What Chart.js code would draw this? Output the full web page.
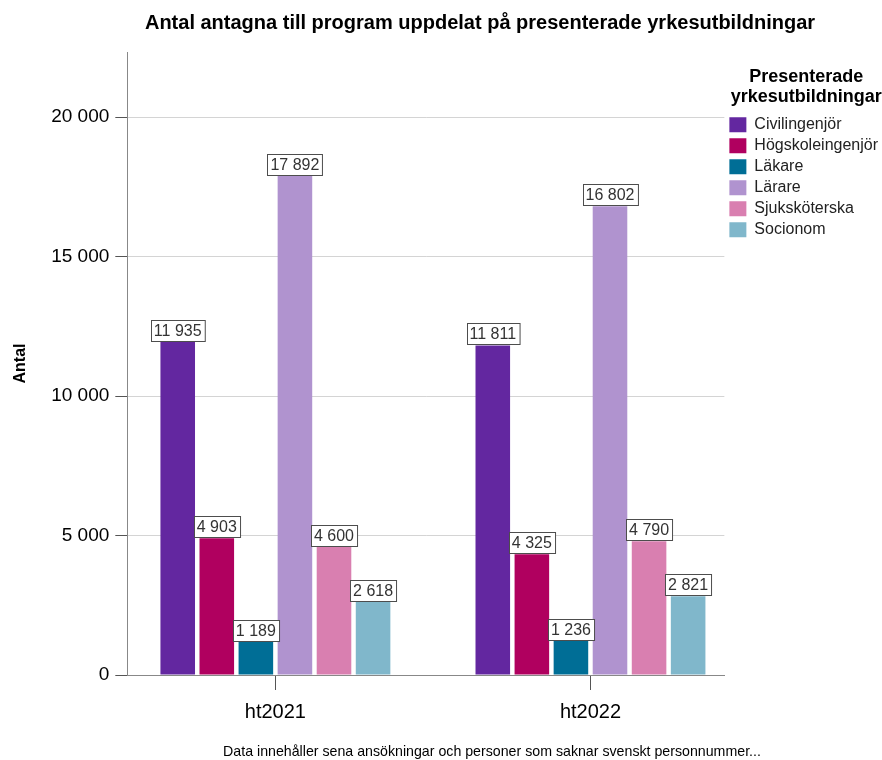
<!DOCTYPE html>
<html>
<head>
<meta charset="utf-8">
<script src="https://cdn.jsdelivr.net/npm/chart.js@4.4.0/dist/chart.umd.min.js"></script>
<style>
  body { margin: 0; background: #fff; }
  #wrap { width: 882px; height: 760px; }
</style>
</head>
<body>
<div id="wrap"><canvas id="mychart" width="882" height="760"></canvas></div>
<script>
var periods = ['ht2021', 'ht2022'];
var programs = ['Civilingenjör', 'Högskoleingenjör', 'Läkare', 'Lärare', 'Sjuksköterska', 'Socionom'];
var civilingenjor = [11935, 11811];
var hogskoleingenjor = [4903, 4325];
var lakare = [1189, 1236];
var larare = [17892, 16802];
var sjukskoterska = [4600, 4790];
var socionom = [2618, 2821];
var yTicks = [0, 5000, 10000, 15000, 20000];
var colors = ['#6327a0', '#b0005f', '#006e96', '#b093cf', '#d97fb0', '#80b7cb'];

var chartTitle = 'Antal antagna till program uppdelat på presenterade yrkesutbildningar';
var footNote = 'Data innehåller sena ansökningar och personer som saknar svenskt personnummer...';
var FONT = 'Arial, "Liberation Sans", sans-serif';

function fmt(n) {
  return String(n).replace(/\B(?=(\d{3})+(?!\d))/g, ' ');
}

var series = [civilingenjor, hogskoleingenjor, lakare, larare, sjukskoterska, socionom];
var datasets = series.map(function (vals, i) {
  return {
    label: programs[i],
    backgroundColor: colors[i],
    borderWidth: 0,
    data: vals.map(function (v, j) { return { x: j, y: v }; })
  };
});

// value boxes above each bar
var valueBoxes = {
  id: 'valueBoxes',
  afterDatasetsDraw: function (chart) {
    var ctx = chart.ctx;
    ctx.save();
    ctx.font = '16px ' + FONT;
    ctx.textAlign = 'center';
    ctx.textBaseline = 'middle';
    chart.data.datasets.forEach(function (ds, i) {
      chart.getDatasetMeta(i).data.forEach(function (bar, j) {
        var txt = fmt(ds.data[j].y);
        var w = ctx.measureText(txt).width + 6;
        var h = 21;
        var x = Math.round(bar.x - w / 2) + 0.5;
        var y = Math.round(bar.y - h - 1) + 0.5;
        ctx.fillStyle = '#ffffff';
        ctx.fillRect(x, y, w, h);
        ctx.strokeStyle = '#4d4d4d';
        ctx.lineWidth = 1;
        ctx.strokeRect(x, y, w, h);
        ctx.fillStyle = '#333333';
        ctx.fillText(txt, bar.x, y + h / 2 + 1);
      });
    });
    ctx.restore();
  }
};

// heading and footnote
var textBlocks = {
  id: 'textBlocks',
  afterDraw: function (chart) {
    var ctx = chart.ctx;
    ctx.save();
    ctx.textAlign = 'center';
    ctx.textBaseline = 'middle';
    ctx.fillStyle = '#000';
    ctx.font = 'bold 20px ' + FONT;
    ctx.fillText(chartTitle, 480, 23);
    ctx.font = '14.2px ' + FONT;
    ctx.fillText(footNote, 492, 752);
    ctx.restore();
  }
};

var ctx = document.getElementById('mychart').getContext('2d');
var chart = new Chart(ctx, {
  type: 'bar',
  data: { datasets: datasets },
  plugins: [valueBoxes, textBlocks],
  options: {
    responsive: false,
    animation: false,
    layout: { padding: { top: 52, right: -6, bottom: 26, left: 0 } },
    datasets: { bar: { categoryPercentage: 0.744, barPercentage: 0.885 } },
    plugins: {
      tooltip: { enabled: false },
      title: { display: false },
      legend: {
        position: 'right',
        align: 'start',
        title: {
          display: true,
          text: ['Presenterade', 'yrkesutbildningar'],
          color: '#000',
          font: { family: FONT, size: 18, weight: 'bold', lineHeight: 1.1 },
          padding: { top: 16, bottom: 24 }
        },
        labels: {
          color: '#222',
          font: { family: FONT, size: 16 },
          boxWidth: 17,
          boxHeight: 15,
          padding: 5
        }
      }
    },
    scales: {
      x: {
        type: 'linear',
        offset: false,
        min: -0.47,
        max: 1.425,
        afterBuildTicks: function (scale) {
          scale.ticks = periods.map(function (p, i) { return { value: i }; });
        },
        ticks: {
          color: '#000',
          font: { family: FONT, size: 20 },
          padding: 10,
          callback: function (v) { return periods[v]; }
        },
        grid: { offset: false, drawOnChartArea: false, drawTicks: true, tickLength: 15, tickColor: '#555' },
        border: { color: '#888' }
      },
      y: {
        min: 0,
        max: 22330,
        afterBuildTicks: function (scale) {
          scale.ticks = yTicks.map(function (v) { return { value: v }; });
        },
        ticks: {
          color: '#000',
          font: { family: FONT, size: 19 },
          padding: 6,
          callback: function (v) { return fmt(v); }
        },
        grid: { color: '#d4d4d4', tickLength: 12, tickColor: '#555' },
        border: { color: '#888' },
        title: {
          display: true,
          text: 'Antal',
          color: '#000',
          font: { family: FONT, size: 16, weight: 'bold' },
          padding: { top: 11, bottom: 15 }
        }
      }
    }
  }
});
</script>
</body>
</html>
